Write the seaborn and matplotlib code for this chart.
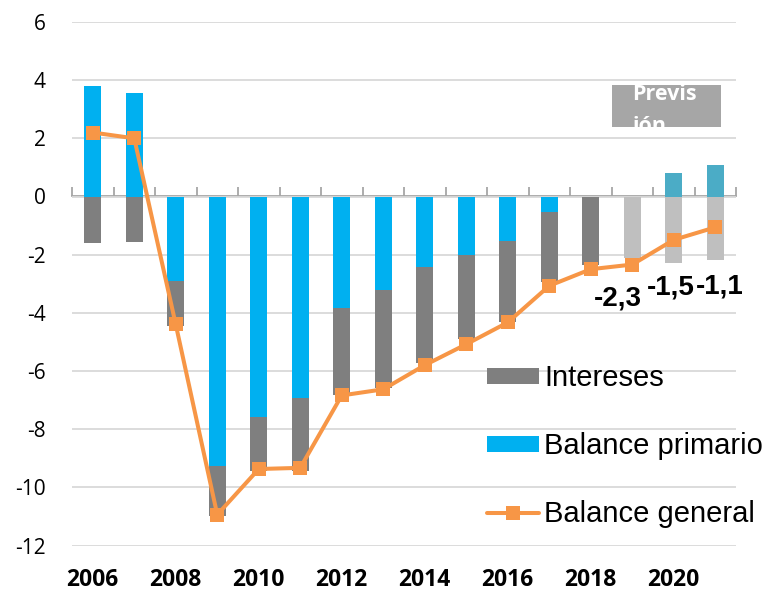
import numpy as np
import pandas as pd
import matplotlib
matplotlib.use("Agg")
import matplotlib.pyplot as plt
import seaborn as sns
from matplotlib.patches import Rectangle, Patch
from matplotlib.lines import Line2D

# ---- data ----
years = [2006, 2007, 2008, 2009, 2010, 2011, 2012, 2013,
         2014, 2015, 2016, 2017, 2018, 2019, 2020, 2021]
primary = [3.8, 3.55, -2.9, -9.28, -7.57, -6.93, -3.82, -3.2,
           -2.41, -2.0, -1.52, -0.54, 0.0, 0.0, 0.8, 1.1]
interest = [-1.6, -1.56, -1.55, -1.72, -1.88, -2.52, -3.0, -3.37,
            -3.3, -2.9, -2.8, -2.4, -2.35, -2.1, -2.3, -2.2]
general = [2.2, 2.0, -4.4, -10.94, -9.37, -9.33, -6.84, -6.63,
           -5.8, -5.08, -4.33, -3.07, -2.5, -2.34, -1.49, -1.06]
forecast_years = [2019, 2020, 2021]
label_years = [2019, 2020, 2021]
label_texts = ["-2,3", "-1,5", "-1,1"]
series_names = ["Intereses", "Balance primario", "Balance general"]
y_ticks = [-12, -10, -8, -6, -4, -2, 0, 2, 4, 6]
forecast_text = "Previs\nión"

# ---- styles ----
BLUE = "#00B0F0"
GREY = "#7F7F7F"
LGREY = "#BFBFBF"
TEAL = "#4BACC6"
ORANGE = "#F79646"
BOX = "#A6A6A6"
GRID = "#D9D9D9"
AXIS = "#A6A6A6"

sns.set_theme(style="white")
plt.rcParams["font.family"] = ["Open Sans", "DejaVu Sans"]

df = pd.DataFrame({
    "year": [str(y) for y in years],
    "primary": primary,
    "interest": interest,
    "general": general,
})
df["neg_base"] = np.minimum(df["primary"], 0)
is_fc = [y in forecast_years for y in years]

fig = plt.figure(figsize=(7.67, 5.91), dpi=100)
W, H = 767, 591
ax_l, ax_r, ax_t, ax_b = 72, 736, 22, 545.5
ax = fig.add_axes([ax_l / W, 1 - ax_b / H, (ax_r - ax_l) / W, (ax_b - ax_t) / H])

# blue: primary balance
n0 = len(ax.patches)
sns.barplot(data=df, x="year", y="primary", color=BLUE, width=0.4,
            errorbar=None, saturation=1, ax=ax, linewidth=0)
for p, fc in zip(ax.patches[n0:], is_fc):
    if fc:
        p.set_facecolor(TEAL)
# grey: interest, stacked below negative primary
n1 = len(ax.patches)
sns.barplot(data=df, x="year", y="interest", color=GREY, width=0.4,
            errorbar=None, saturation=1, ax=ax, linewidth=0,
            bottom=df["neg_base"].values)
for p, fc in zip(ax.patches[n1:], is_fc):
    if fc:
        p.set_facecolor(LGREY)

# orange line: general balance
sns.lineplot(data=df, x="year", y="general", color=ORANGE, lw=2.9,
             marker="s", markersize=10, markeredgewidth=0, sort=False,
             errorbar=None, ax=ax, zorder=5)

ax.set_xlim(-0.5, len(years) - 0.5)
ax.set_ylim(-12, 6)
ax.set_yticks(y_ticks)
ax.set_yticklabels([str(v) for v in y_ticks])
ax.set_xticks(range(0, len(years), 2))
ax.set_xticklabels([str(y) for y in years[::2]], fontweight="bold")
ax.tick_params(axis="x", length=0, pad=16, labelsize=16.5, labelcolor="black")
ax.tick_params(axis="y", length=0, pad=19, labelsize=15, labelcolor="black")
ax.set_xlabel("")
ax.set_ylabel("")
for s in ax.spines.values():
    s.set_visible(False)
ax.set_axisbelow(True)
ax.yaxis.grid(True, color=GRID, lw=1.3)
ax.xaxis.grid(False)

# category axis line at zero with upward ticks
sec = ax.secondary_xaxis(12 / 18)
sec.set_xticks(np.arange(-0.5, len(years), 1.0))
sec.set_xticklabels([])
sec.tick_params(length=6.5, width=1.3, color=AXIS, direction="out")
for s in sec.spines.values():
    s.set_color(AXIS)
    s.set_linewidth(1.3)

# data labels
for yr, txt in zip(label_years, label_texts):
    i = years.index(yr)
    off = {2019: (-10, -29.5), 2020: (-2, -39), 2021: (3.4, -48)}[yr]
    ax.annotate(txt, xy=(str(yr), general[i]), xytext=off,
                textcoords="offset points", ha="center", va="baseline",
                fontsize=20, fontweight="bold", family="Liberation Sans",
                color="black", zorder=6)

# forecast box
bx0 = (612 - ax_l) / (ax_r - ax_l)
bx1 = (720.7 - ax_l) / (ax_r - ax_l)
by0 = (ax_b - 127.3) / (ax_b - ax_t)
by1 = (ax_b - 85) / (ax_b - ax_t)
rect = Rectangle((bx0, by0), bx1 - bx0, by1 - by0, transform=ax.transAxes,
                 facecolor=BOX, edgecolor="none", zorder=4)
ax.add_patch(rect)
t = ax.text((632 - ax_l) / (ax_r - ax_l), (ax_b - 84) / (ax_b - ax_t),
            forecast_text, transform=ax.transAxes, ha="left", va="top",
            fontsize=15.5, fontweight="bold", color="white",
            linespacing=1.7, zorder=5)
t.set_clip_path(rect)

# legend
handles = [Patch(facecolor=GREY, edgecolor="none"),
           Patch(facecolor=BLUE, edgecolor="none"),
           Line2D([], [], color=ORANGE, lw=2.9, marker="s", markersize=10,
                  markeredgewidth=0)]
leg = ax.legend(handles, series_names, loc="upper left",
                bbox_to_anchor=(487 / W, 1 - 364 / H),
                bbox_transform=fig.transFigure, frameon=False,
                prop={"family": "Liberation Sans", "size": 21},
                handlelength=1.78, handleheight=0.48, handletextpad=0.17,
                labelspacing=1.38, borderpad=0, borderaxespad=0)
for txt in leg.get_texts():
    txt.set_color("black")

fig.savefig("out.png", dpi=100)
